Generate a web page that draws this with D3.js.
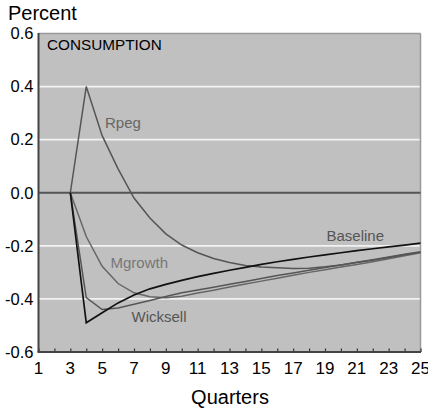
<!DOCTYPE html>
<html><head><meta charset="utf-8">
<script src="https://cdn.jsdelivr.net/npm/d3@7"></script>
<style>body{margin:0;background:#fff}svg{display:block}text{font-family:"Liberation Sans",Arial,sans-serif}</style>
</head><body><svg id="c" width="428" height="414"></svg>
<script>
const quarters = [3,4,5,6,7,8,9,10,11,12,13,14,15,16,17,18,19,20,21,22,23,24,25];
const baseline = [0,-0.49,-0.452,-0.415,-0.385,-0.362,-0.345,-0.33,-0.316,-0.304,-0.292,-0.281,-0.27,-0.26,-0.251,-0.242,-0.234,-0.226,-0.218,-0.211,-0.204,-0.197,-0.19];
const rpeg = [0,0.40,0.215,0.09,-0.02,-0.095,-0.155,-0.197,-0.226,-0.248,-0.263,-0.274,-0.28,-0.283,-0.285,-0.284,-0.279,-0.272,-0.263,-0.254,-0.244,-0.234,-0.224];
const mgrowth = [0,-0.165,-0.277,-0.342,-0.377,-0.392,-0.396,-0.39,-0.378,-0.367,-0.355,-0.344,-0.333,-0.322,-0.311,-0.3,-0.29,-0.28,-0.27,-0.26,-0.249,-0.237,-0.226];
const wicksell = [0,-0.395,-0.44,-0.434,-0.42,-0.406,-0.391,-0.377,-0.366,-0.356,-0.345,-0.334,-0.323,-0.312,-0.302,-0.292,-0.282,-0.272,-0.262,-0.252,-0.242,-0.232,-0.222];
const xTicks = [1,3,5,7,9,11,13,15,17,19,21,23,25];
const yTicks = [0.6,0.4,0.2,0.0,-0.2,-0.4,-0.6];
const gridVals = [0.4,0.2,-0.2,-0.4];

const svg = d3.select("#c");
const L=38.5, R=420.5, T=33.5, B=352;
const x = d3.scaleLinear().domain([1,25]).range([L,R]);
const y = d3.scaleLinear().domain([-0.6,0.6]).range([B,T]);

svg.append("rect").attr("x",L).attr("y",T).attr("width",R-L).attr("height",B-T).attr("fill","#c0c0c0");
svg.selectAll(".g").data(gridVals).join("line").attr("x1",L).attr("x2",R)
  .attr("y1",d=>y(d)).attr("y2",d=>y(d)).attr("stroke","#f2f2f2").attr("stroke-width",1.8);
// top & right border
svg.append("line").attr("x1",L).attr("x2",R).attr("y1",T).attr("y2",T).attr("stroke","#999").attr("stroke-width",1.5);
svg.append("line").attr("x1",R).attr("x2",R).attr("y1",T).attr("y2",B).attr("stroke","#999").attr("stroke-width",1.5);
// zero line
svg.append("line").attr("x1",L).attr("x2",R).attr("y1",y(0)).attr("y2",y(0)).attr("stroke","#555").attr("stroke-width",1.8);

// x ticks inside, every quarter
const xa = d3.axisBottom(x).tickValues(d3.range(1,26)).tickSize(-3.5).tickFormat("");
const gx = svg.append("g").attr("transform",`translate(0,${B})`).call(xa);
gx.select(".domain").remove();
gx.selectAll("line").attr("stroke","#333").attr("stroke-width",1.2);
svg.append("line").attr("x1",L-1).attr("x2",R+0.5).attr("y1",B).attr("y2",B).attr("stroke","#444").attr("stroke-width",2);
svg.append("line").attr("x1",L).attr("x2",L).attr("y1",T-0.5).attr("y2",B).attr("stroke","#444").attr("stroke-width",2);

svg.selectAll(".xl").data(xTicks).join("text").attr("x",d=>x(d)).attr("y",374)
  .attr("text-anchor","middle").attr("font-size",17).attr("fill","#000").text(d=>d);
svg.selectAll(".yl").data(yTicks).join("text").attr("x",33.5).attr("y",d=>y(d)+5.8)
  .attr("text-anchor","end").attr("font-size",16.5).attr("fill","#000").text(d=>d.toFixed(1));

svg.append("text").attr("x",8).attr("y",20).attr("font-size",20).text("Percent");
svg.append("text").attr("x",230).attr("y",404).attr("text-anchor","middle").attr("font-size",20).text("Quarters");
svg.append("text").attr("x",47).attr("y",49.5).attr("font-size",15.3).text("CONSUMPTION");

const line = d3.line().x((d,i)=>x(quarters[i])).y(d=>y(d));
const series = [
  {v:mgrowth, c:"#666", w:1.5},
  {v:wicksell, c:"#555", w:1.5},
  {v:rpeg, c:"#555", w:1.5},
  {v:baseline, c:"#111", w:1.7}
];
series.forEach(s=>svg.append("path").attr("d",line(s.v)).attr("fill","none")
  .attr("stroke",s.c).attr("stroke-width",s.w).attr("stroke-linejoin","miter"));

const labels = [
  {t:"Rpeg", x:105, y:127.5, c:"#666"},
  {t:"Mgrowth", x:110.5, y:267.5, c:"#777"},
  {t:"Wicksell", x:131.5, y:322, c:"#555"},
  {t:"Baseline", x:326.5, y:241, c:"#555"}
];
svg.selectAll(".lab").data(labels).join("text").attr("x",d=>d.x).attr("y",d=>d.y)
  .attr("font-size",15).attr("fill",d=>d.c).text(d=>d.t);
</script></body></html>
